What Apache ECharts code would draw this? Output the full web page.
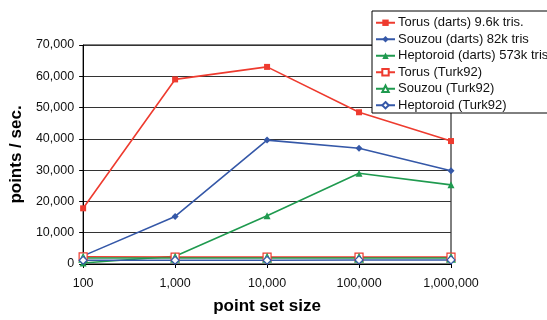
<!DOCTYPE html>
<html><head><meta charset="utf-8">
<script src="https://cdn.jsdelivr.net/npm/echarts@6/dist/echarts.min.js"></script>
<style>html,body{margin:0;padding:0;background:#fff}#c{width:547px;height:320px}</style>
</head><body><div id="c"></div>
<script>
const pointSetSizes = [100, 1000, 10000, 100000, 1000000];
const torusDarts = [17800, 59000, 63000, 48500, 39300];
const souzouDarts = [2600, 15200, 39600, 37000, 29800];
const heptoroidDarts = [300, 2500, 15400, 29000, 25300];
const torusTurk = [2300, 2200, 2200, 2200, 2200];
const souzouTurk = [1900, 1900, 1900, 1900, 1900];
const heptoroidTurk = [1200, 1200, 1200, 1300, 1300];
const yTicks = [0, 10000, 20000, 30000, 40000, 50000, 60000, 70000];

const RED = '#ee3b2f', BLUE = '#3558a8', GREEN = '#1f9a4f';
const fmt = v => Number(v).toLocaleString('en-US');
function ser(name, data, color, symbol, size, filled) {
  return {
    name, type: 'line', data: pointSetSizes.map((x, i) => [x, data[i]]),
    symbol, symbolSize: size, showSymbol: true,
    lineStyle: { color, width: 1.6 },
    itemStyle: { color: filled ? color : '#fff', borderColor: color, borderWidth: filled ? 0 : 1.2 },
    emphasis: { disabled: true }, animation: false
  };
}
const chart = echarts.init(document.getElementById('c'), null, { renderer: 'canvas' });
chart.setOption({
  animation: false,
  grid: { left: 83, right: 96, top: 45, bottom: 51, show: true, borderColor: '#000', borderWidth: 1 },
  xAxis: {
    type: 'log', logBase: 10, min: 100, max: 1000000,
    name: 'point set size', nameLocation: 'middle', nameGap: 34,
    nameTextStyle: { fontFamily: 'Liberation Sans', fontWeight: 'bold', fontSize: 17, color: '#000' },
    axisLine: { lineStyle: { color: '#000' } },
    axisTick: { show: true, length: 4, inside: false, lineStyle: { color: '#000' } },
    minorTick: { show: false }, splitLine: { show: false },
    axisLabel: { formatter: v => fmt(v), fontFamily: 'Liberation Sans', fontSize: 12.5, color: '#111', margin: 13 }
  },
  yAxis: {
    type: 'value', min: yTicks[0], max: yTicks[yTicks.length - 1], interval: 10000,
    name: 'points / sec.', nameLocation: 'middle', nameGap: 55,
    nameTextStyle: { fontFamily: 'Liberation Sans', fontWeight: 'bold', fontSize: 17, color: '#000' },
    axisLine: { show: true, lineStyle: { color: '#000' } },
    axisTick: { show: true, length: 4, lineStyle: { color: '#000' } },
    splitLine: { show: true, lineStyle: { color: '#333', width: 1 } },
    axisLabel: { formatter: v => fmt(v), fontFamily: 'Liberation Sans', fontSize: 12.5, color: '#111', margin: 9 }
  },
  legend: {
    orient: 'vertical', left: 372, top: 11, padding: [5, 4, 1, 3],
    backgroundColor: '#fff', borderColor: '#000', borderWidth: 1, borderRadius: 0,
    itemWidth: 19, itemHeight: 8, itemGap: 3,
    textStyle: { fontFamily: 'Liberation Sans', fontSize: 13, lineHeight: 13.5, color: '#111', padding: [0, 0, 0, -2] },
    data: ['Torus (darts) 9.6k tris.', 'Souzou (darts) 82k tris', 'Heptoroid (darts) 573k tris',
           'Torus (Turk92)', 'Souzou (Turk92)', 'Heptoroid (Turk92)']
  },
  series: [
    ser('Torus (darts) 9.6k tris.', torusDarts, RED, 'rect', 6, true),
    ser('Souzou (darts) 82k tris', souzouDarts, BLUE, 'diamond', 7, true),
    ser('Heptoroid (darts) 573k tris', heptoroidDarts, GREEN, 'triangle', 7, true),
    ser('Torus (Turk92)', torusTurk, RED, 'rect', 8, false),
    ser('Souzou (Turk92)', souzouTurk, GREEN, 'triangle', 8, false),
    ser('Heptoroid (Turk92)', heptoroidTurk, BLUE, 'diamond', 8, false)
  ]
});
</script></body></html>
